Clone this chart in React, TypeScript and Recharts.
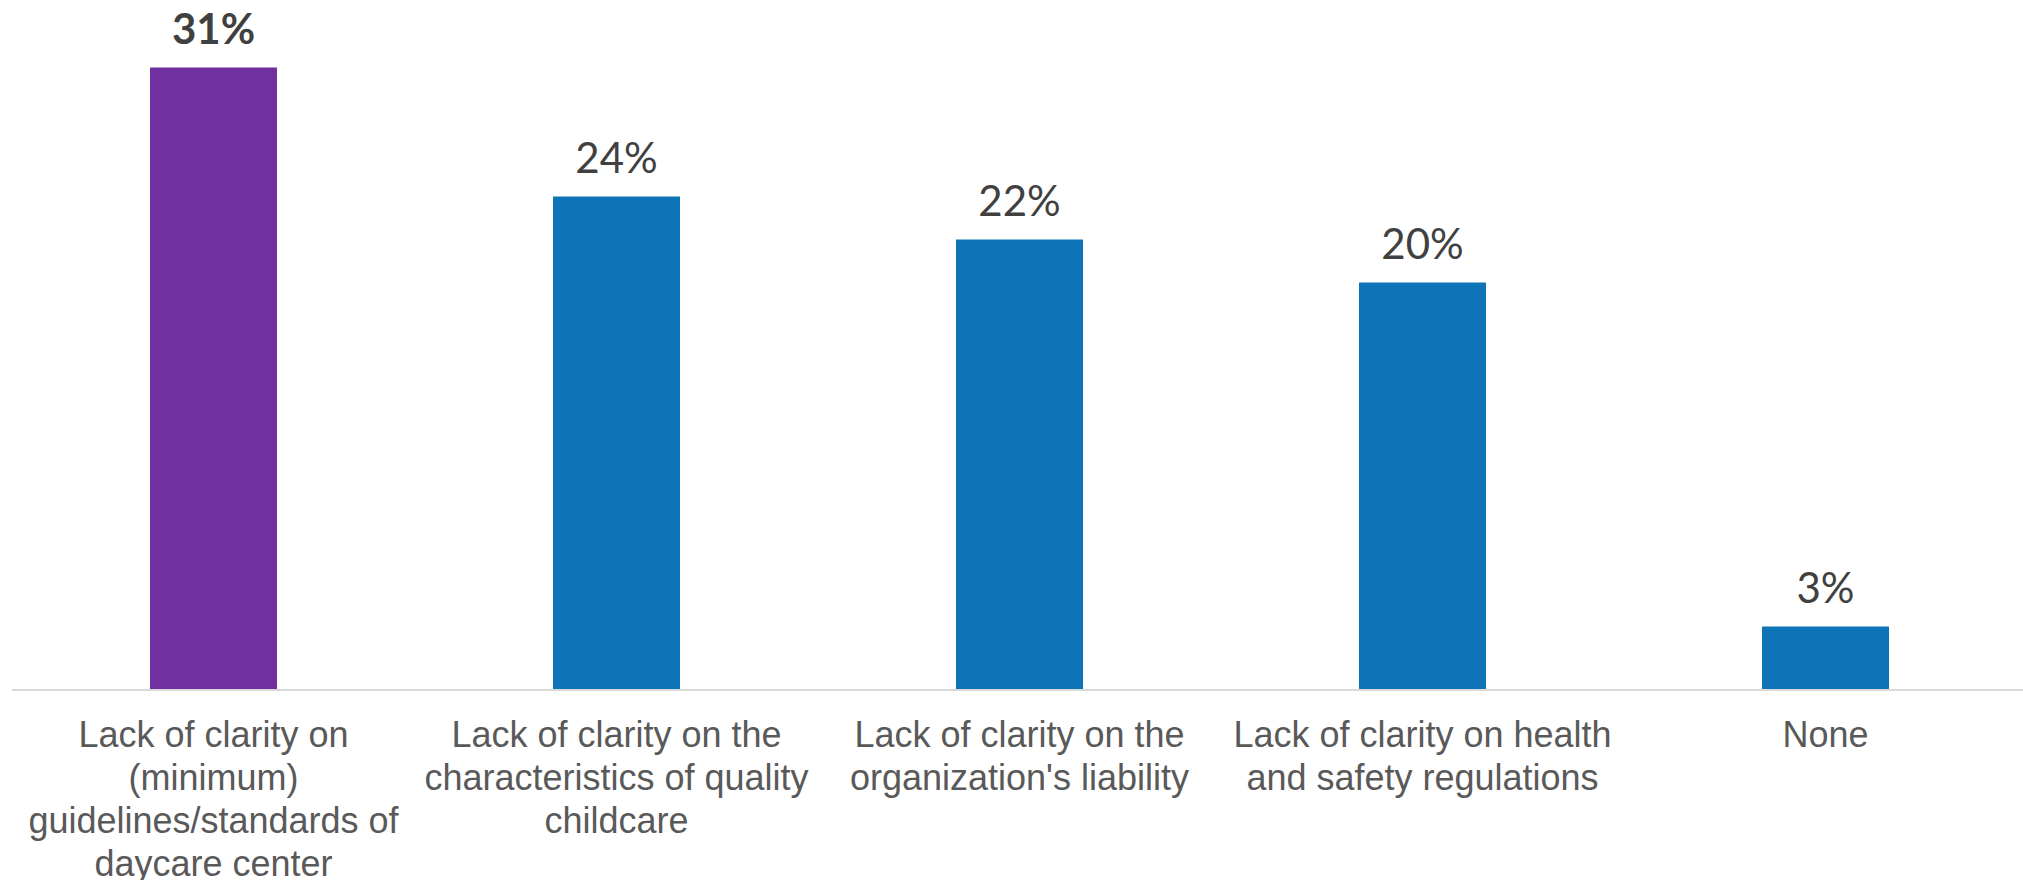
import { Bar, BarChart, Cell, LabelList, XAxis, YAxis } from "recharts"

document.body.style.margin = "0"
document.body.style.overflow = "hidden"

const categories = [
  "Lack of clarity on\n(minimum)\nguidelines/standards of\ndaycare center",
  "Lack of clarity on the\ncharacteristics of quality\nchildcare",
  "Lack of clarity on the\norganization's liability",
  "Lack of clarity on health\nand safety regulations",
  "None",
]
const values = [30.4, 24.1, 22.0, 19.9, 3.1]
const valueLabels = ["31%", "24%", "22%", "20%", "3%"]
const colors = ["#7030A0", "#0E74B7", "#0E74B7", "#0E74B7", "#0E74B7"]

const data = categories.map((name, i) => ({ name, value: values[i], label: valueLabels[i] }))

// axis line sits at ~690, first text baseline at ~747
const CategoryTick = (props: any) => {
  const { x, payload } = props
  const lines = String(payload.value).split("\n")
  return (
    <text
      x={x}
      y={747}
      textAnchor="middle"
      fill="#595959"
      fontSize={36}
      fontFamily="'Liberation Sans', Arial, sans-serif"
    >
      {lines.map((line, i) => (
        <tspan key={i} x={x} y={747 + i * 43}>
          {line}
        </tspan>
      ))}
    </text>
  )
}

const ValueLabel = (props: any) => {
  const { x, y, width, index } = props
  return (
    <text
      x={x + width / 2}
      y={y - 24}
      textAnchor="middle"
      fill="#404040"
      fontSize={42}
      fontWeight={index === 0 ? 700 : 400}
      fontFamily="Lato, 'Open Sans', sans-serif"
    >
      {valueLabels[index]}
    </text>
  )
}

export default function App() {
  return (
    <BarChart width={2027} height={880} data={data} margin={{ top: 0, right: 0, bottom: 0, left: 12 }}>
      <XAxis
        dataKey="name"
        height={190}
        interval={0}
        tickLine={false}
        axisLine={{ stroke: "#d9d9d9", strokeWidth: 2 }}
        tick={<CategoryTick />}
      />
      <YAxis hide domain={[0, 33.7]} />
      <Bar dataKey="value" barSize={127} isAnimationActive={false}>
        {data.map((_, i) => (
          <Cell key={i} fill={colors[i]} />
        ))}
        <LabelList dataKey="label" content={<ValueLabel />} />
      </Bar>
    </BarChart>
  )
}
